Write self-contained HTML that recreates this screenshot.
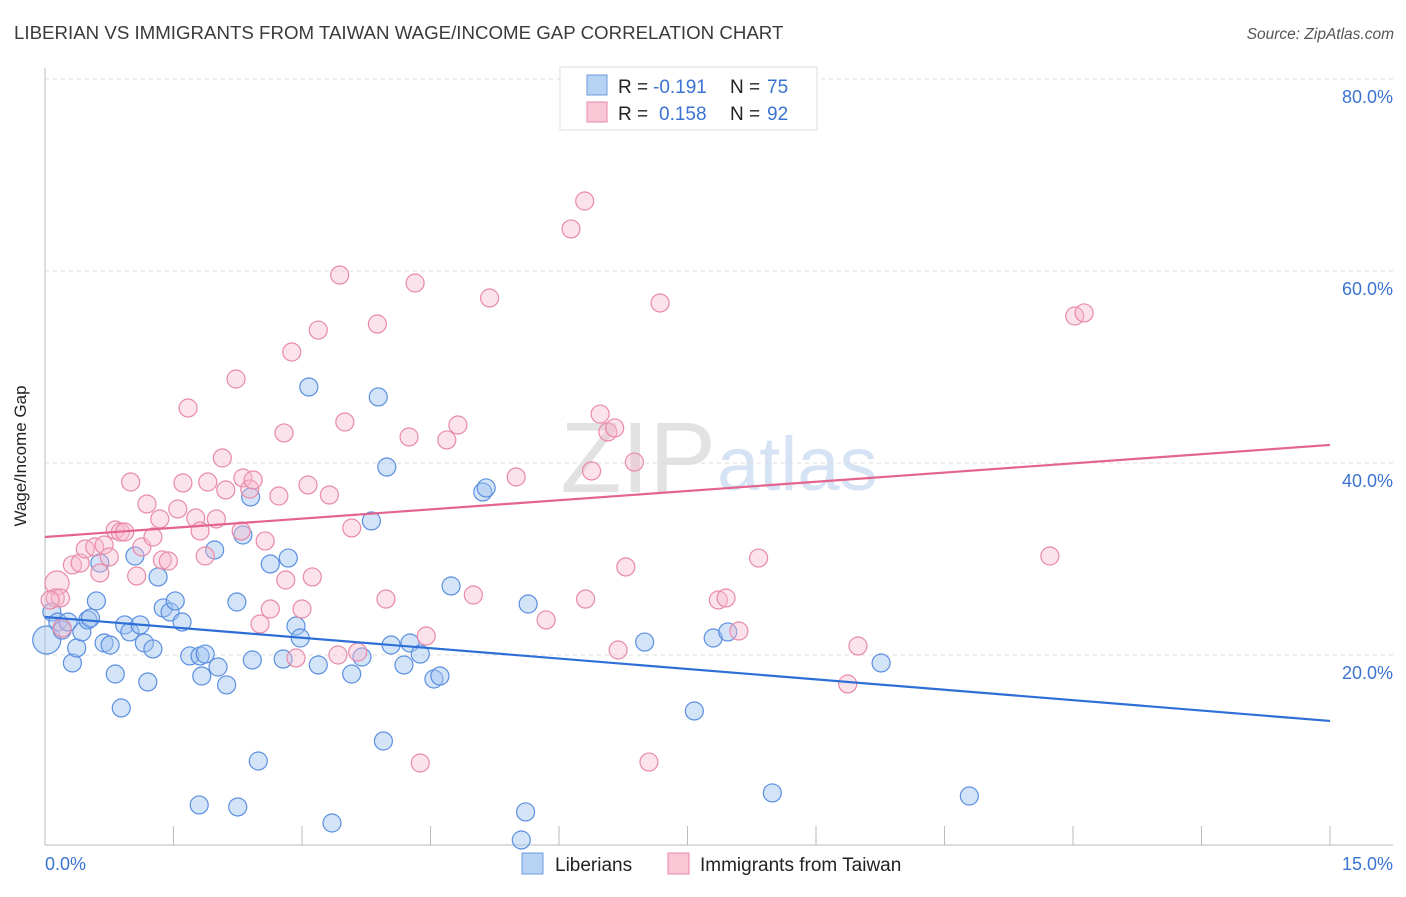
<!DOCTYPE html>
<html><head><meta charset="utf-8"><style>
body{margin:0;background:#fff;font-family:"Liberation Sans",sans-serif}
svg text{font-family:"Liberation Sans",sans-serif}
</style></head><body>
<svg id="chart" width="1406" height="892" xmlns="http://www.w3.org/2000/svg">
<text x="14" y="39" font-size="18.7" fill="#3a3a3a">LIBERIAN VS IMMIGRANTS FROM TAIWAN WAGE/INCOME GAP CORRELATION CHART</text>
<text x="1394" y="39" font-size="15.5" fill="#555" font-style="italic" text-anchor="end">Source: ZipAtlas.com</text>
<text x="716" y="492" font-size="100" fill="#e2e2e2" text-anchor="end" font-family="Liberation Serif">ZIP</text>
<text x="717" y="490" font-size="76" fill="#d6e3f5">atlas</text>
<g id="grid"></g>
<g id="axes"></g>
<g id="pts"></g>
<g id="trend"></g>
<text x="26" y="456" font-size="17" fill="#222" transform="rotate(-90 26 456)" text-anchor="middle">Wage/Income Gap</text>
<text x="45" y="870" font-size="18" fill="#3b73d1">0.0%</text>
<text x="1393" y="870" font-size="18" fill="#3b73d1" text-anchor="end">15.0%</text>
<g>
<rect x="560" y="67" width="257" height="63" fill="#fff" stroke="#ddd"/>
<rect x="587" y="75" width="20" height="20" fill="#b8d2f4" stroke="#6b9be0"/>
<rect x="587" y="102" width="20" height="20" fill="#f9c6d6" stroke="#e88aa8"/>
<text x="618" y="93" font-size="19" fill="#222">R =</text>
<text x="653" y="93" font-size="19" fill="#3b73d1">-0.191</text>
<text x="730" y="93" font-size="19" fill="#222">N =</text>
<text x="767" y="93" font-size="19" fill="#3b73d1">75</text>
<text x="618" y="120" font-size="19" fill="#222">R =</text>
<text x="659" y="120" font-size="19" fill="#3b73d1">0.158</text>
<text x="730" y="120" font-size="19" fill="#222">N =</text>
<text x="767" y="120" font-size="19" fill="#3b73d1">92</text>
</g>
<g>
<rect x="522" y="853" width="21" height="21" fill="#b8d2f4" stroke="#6b9be0"/>
<text x="555" y="871" font-size="19" fill="#222">Liberians</text>
<rect x="668" y="853" width="21" height="21" fill="#f9c6d6" stroke="#e88aa8"/>
<text x="700" y="871" font-size="19" fill="#222">Immigrants from Taiwan</text>
</g>
</svg>
<script>
const yTicks=[20,40,60,80];
const yTickLabels=["20.0%","40.0%","60.0%","80.0%"];
const xTicks=[0,1.5,3,4.5,6,7.5,9,10.5,12,13.5,15];
const blueX=[0.02,0.08,0.15,0.20,0.27,0.32,0.37,0.43,0.50,0.53,0.60,0.64,0.69,0.76,0.82,0.89,0.93,0.99,1.05,1.11,1.16,1.20,1.26,1.32,1.38,1.46,1.52,1.60,1.69,1.81,1.83,1.87,1.98,2.02,2.12,2.24,2.31,2.40,2.42,2.49,2.63,2.78,2.84,2.93,2.98,3.08,3.19,3.35,3.58,3.70,3.81,3.89,3.95,3.99,4.04,4.19,4.26,4.38,4.54,4.61,4.74,5.11,5.15,5.61,5.56,5.64,7.00,7.58,7.80,7.97,8.49,9.76,10.79,1.80,2.25];
const blueY=[21.56,24.48,23.44,22.60,23.44,19.17,20.73,22.40,23.65,23.85,25.63,29.58,21.25,21.04,18.02,14.48,23.13,22.40,30.31,23.13,21.25,17.19,20.63,28.13,24.90,24.48,25.63,23.44,19.90,19.90,17.81,20.10,30.94,18.75,16.88,25.52,32.50,36.46,19.48,8.96,29.48,19.58,30.10,23.02,21.77,47.92,18.96,2.50,18.02,19.79,33.96,46.88,11.04,39.58,21.04,18.96,21.25,20.10,17.50,17.81,27.19,36.98,37.40,3.65,0.73,25.31,21.35,14.17,21.77,22.40,5.63,19.17,5.31,4.38,4.17];
const pinkX=[0.14,0.12,0.18,0.06,0.20,0.32,0.41,0.47,0.58,0.64,0.69,0.75,0.82,0.88,0.93,1.00,1.07,1.13,1.19,1.26,1.34,1.37,1.44,1.55,1.61,1.67,1.76,1.81,1.87,1.90,2.00,2.07,2.11,2.23,2.29,2.31,2.39,2.43,2.51,2.57,2.63,2.73,2.79,2.81,2.88,2.93,3.00,3.07,3.12,3.19,3.32,3.42,3.44,3.50,3.58,3.65,3.88,3.98,4.25,4.32,4.38,4.45,4.69,4.82,5.00,5.19,5.50,5.85,6.14,6.30,6.31,6.38,6.48,6.57,6.65,6.69,6.78,6.88,7.05,7.18,7.86,7.95,8.10,8.33,9.37,9.49,11.73,12.02,12.13];
const pinkY=[27.50,25.94,25.94,25.73,22.81,29.38,29.58,31.04,31.25,28.54,31.46,30.21,33.02,32.81,32.81,38.02,28.23,31.25,35.73,32.29,34.17,29.90,29.79,35.21,37.92,45.73,34.27,32.92,30.31,38.02,34.17,40.52,37.19,48.75,32.92,38.44,37.29,38.23,23.23,31.88,24.79,36.56,43.13,27.81,51.56,19.69,24.79,37.71,28.13,53.85,36.67,20.00,59.58,44.27,33.23,20.31,54.48,25.83,42.71,58.75,8.75,21.98,42.40,43.96,26.25,57.19,38.54,23.65,64.38,67.29,25.83,39.17,45.10,43.23,43.65,20.52,29.17,40.10,8.85,56.67,25.73,25.94,22.50,30.10,16.98,20.94,30.31,55.31,55.63];
const blueTrend=[23.96,13.13];
const pinkTrend=[32.29,41.88];
const NS="http://www.w3.org/2000/svg";
const xs=v=>45+v/15*1285;
const ys=v=>847-v*9.6;
function mk(tag,attrs,parent){const e=document.createElementNS(NS,tag);for(const k in attrs)e.setAttribute(k,attrs[k]);parent.appendChild(e);return e;}
const grid=document.getElementById('grid'),axes=document.getElementById('axes'),pts=document.getElementById('pts'),trend=document.getElementById('trend');
yTicks.forEach((t,i)=>{
 const l=mk('line',{x1:45,x2:1393,y1:ys(t),y2:ys(t),stroke:'#ddd','stroke-dasharray':'4,4'},grid);
 
 
 const tx=mk('text',{x:1393,y:ys(t)+24,'font-size':18,fill:'#3b73d1','text-anchor':'end'},grid);
 tx.textContent=yTickLabels[i];
 
 
});
const ax=mk('line',{x1:45,x2:1393,y1:845,y2:845,stroke:'#bbb'},axes);


const ay=mk('line',{x1:45,x2:45,y1:68,y2:845,stroke:'#bbb'},axes);


xTicks.forEach(t=>{
 const l=mk('line',{x1:xs(t),x2:xs(t),y1:826,y2:845,stroke:'#bbb'},axes);
 
 
});
blueX.forEach((x,i)=>{
 const c=mk('circle',{cx:xs(x),cy:ys(blueY[i]),r:i===0?14:9,fill:'rgba(160,196,240,0.45)',stroke:'#5b8fe0','stroke-width':1.2},pts);
 
 
});
pinkX.forEach((x,i)=>{
 const c=mk('circle',{cx:xs(x),cy:ys(pinkY[i]),r:i===0?12:9,fill:'rgba(248,184,204,0.4)',stroke:'#e88aa8','stroke-width':1.2},pts);
 
 
});
const bl=mk('line',{x1:xs(0),y1:ys(blueTrend[0]),x2:xs(15),y2:ys(blueTrend[1]),stroke:'#2d6fd6','stroke-width':2.2},trend);


const pl=mk('line',{x1:xs(0),y1:ys(pinkTrend[0]),x2:xs(15),y2:ys(pinkTrend[1]),stroke:'#e3648e','stroke-width':2.2},trend);


</script>
</body></html>
